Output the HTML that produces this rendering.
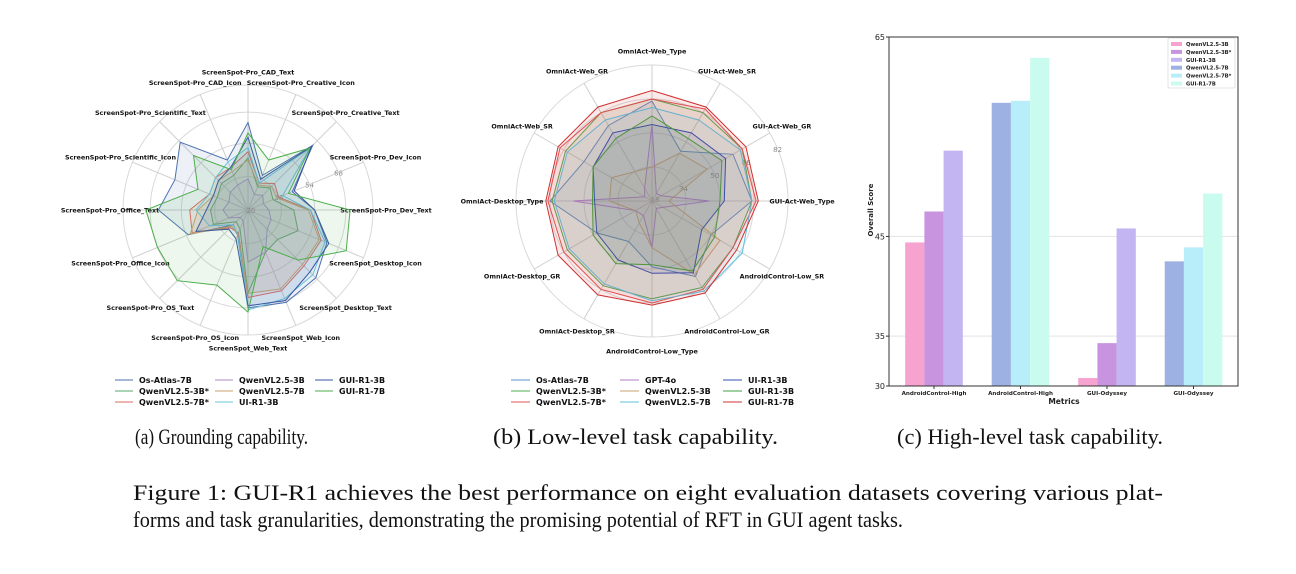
<!DOCTYPE html>
<html><head><meta charset="utf-8"><style>
html,body{margin:0;padding:0;background:#fff;}
svg{display:block;}
text{font-family:"DejaVu Sans","Liberation Sans",sans-serif;}
.cap{font-family:"Liberation Serif",serif;font-size:22px;fill:#111;}
</style></head><body>
<svg id="fig" width="1296" height="574" viewBox="0 0 1296 574" xmlns="http://www.w3.org/2000/svg">
<g id="radar1"></g>
<g id="radar2"></g>
<g id="bars"></g>
<text class="cap" x="135" y="444" textLength="173" lengthAdjust="spacingAndGlyphs">(a) Grounding capability.</text>
<text class="cap" x="493" y="444" textLength="285" lengthAdjust="spacingAndGlyphs">(b) Low-level task capability.</text>
<text class="cap" x="897" y="444" textLength="266" lengthAdjust="spacingAndGlyphs">(c) High-level task capability.</text>
<text class="cap" x="133" y="500" textLength="1030" lengthAdjust="spacingAndGlyphs">Figure 1: GUI-R1 achieves the best performance on eight evaluation datasets covering various plat-</text>
<text class="cap" x="133" y="527" textLength="770" lengthAdjust="spacingAndGlyphs">forms and task granularities, demonstrating the promising potential of RFT in GUI agent tasks.</text>
</svg>
<script>
// ---------- Radar 1 data ----------
const r1Axes = ["ScreenSpot-Pro_CAD_Text","ScreenSpot-Pro_Creative_Icon","ScreenSpot-Pro_Creative_Text","ScreenSpot-Pro_Dev_Icon","ScreenSpot-Pro_Dev_Text","ScreenSpot_Desktop_Icon","ScreenSpot_Desktop_Text","ScreenSpot_Web_Icon","ScreenSpot_Web_Text","ScreenSpot-Pro_OS_Icon","ScreenSpot-Pro_OS_Text","ScreenSpot-Pro_Office_Icon","ScreenSpot-Pro_Office_Text","ScreenSpot-Pro_Scientific_Icon","ScreenSpot-Pro_Scientific_Text","ScreenSpot-Pro_CAD_Icon"];
const r1Names = ["Os-Atlas-7B","QwenVL2.5-3B*","QwenVL2.5-7B*","QwenVL2.5-3B","QwenVL2.5-7B","UI-R1-3B","GUI-R1-3B","GUI-R1-7B"];
const r1OsAtlas = [62,38,64,43,52,61,66,68,67,33,30,51,63,58,66,46];
const r1Qwen3Bs = [45,32,35,33,42,46,40,42,60,30,28,38,38,36,38,38];
const r1Qwen7Bs = [48,34,38,36,50,58,58,62,62,32,32,49,48,40,42,42];
const r1Qwen3B  = [35,28,30,28,30,32,33,42,45,26,25,30,32,30,32,33];
const r1Qwen7B  = [44,33,36,35,49,57,57,61,60,33,31,50,44,38,40,40];
const r1UIR13B  = [50,34,62,38,50,60,64,66,68,33,30,40,45,40,42,45];
const r1GUIR13B = [55,36,63,44,52,62,62,67,66,35,33,47,40,38,40,42];
const r1GUIR17B = [57,46,62,41,69,71,54,39,69,59,68,67,69,46,57,41];
const r1Ticks = [36,52,67,80];
const r1TickLabels = ["36","54","68",""];
// ---------- Radar 2 data ----------
const r2Axes = ["OmniAct-Web_Type","GUI-Act-Web_SR","GUI-Act-Web_GR","GUI-Act-Web_Type","AndroidControl-Low_SR","AndroidControl-Low_GR","AndroidControl-Low_Type","OmniAct-Desktop_SR","OmniAct-Desktop_GR","OmniAct-Desktop_Type","OmniAct-Web_SR","OmniAct-Web_GR"];
const r2Names = ["Os-Atlas-7B","QwenVL2.5-3B*","QwenVL2.5-7B*","GPT-4o","QwenVL2.5-3B","QwenVL2.5-7B","UI-R1-3B","GUI-R1-3B","GUI-R1-7B"];
const r2OsAtlas = [65,45,62,65,50,59,49,40,48,66,55,59];
const r2Qwen3Bs = [66,66,67,65,62,65,64,64,64,65,65,66];
const r2Qwen7Bs = [66,68,67,67,62,66,66,66,66,67,68,66];
const r2GPT4o   = [54,22,23,45,24,22,40,26,27,55,22,25];
const r2Qwen3B  = [34,44,48,26,55,58,40,30,27,38,40,34];
const r2Qwen7B  = [62,62,66,65,67,67,65,63,63,64,64,62];
const r2UIR13B  = [54,55,58,52,45,57,52,50,48,45,50,55];
const r2GUIR13B = [58,52,56,50,52,56,48,52,50,46,50,52];
const r2GUIR17B = [70,69,69,68,64,68,67,69,69,68,69,69];
const r2Ticks = [34,50,66,82];
const r2TickLabels = ["34","50","66","82"];
// ---------- Bar data ----------
const barCats = ["AndroidControl-High","AndroidControl-High","GUI-Odyssey","GUI-Odyssey"];
const barNames = ["QwenVL2.5-3B","QwenVL2.5-3B*","GUI-R1-3B","QwenVL2.5-7B","QwenVL2.5-7B*","GUI-R1-7B"];
const bar3Base  = [44.4, null, 30.8, null];
const bar3Star  = [47.5, null, 34.3, null];
const bar3R1    = [53.6, null, 45.8, null];
const bar7Base  = [null, 58.4, null, 42.5];
const bar7Star  = [null, 58.6, null, 43.9];
const bar7R1    = [null, 62.9, null, 49.3];
const barTicks = [30,35,45,65];

const NS="http://www.w3.org/2000/svg";
function mk(parent,tag,attrs,txt){const e=document.createElementNS(NS,tag);for(const k in attrs)e.setAttribute(k,attrs[k]);if(txt!==undefined)e.textContent=txt;parent.appendChild(e);return e;}

function radar(g,cx,cy,R,vmin,vmax,axes,ticks,tickLabels,series,colors,names,labelR,key){
  const n=axes.length;
  const rs=v=>(v-vmin)/(vmax-vmin)*R;
  const pt=(i,r)=>{const a=i/n*2*Math.PI;return [cx+r*Math.sin(a),cy-r*Math.cos(a)];};
  ticks.forEach((t,k)=>{
    const c=mk(g,'circle',{cx:cx,cy:cy,r:rs(t),fill:'none',stroke:'#d9d9d9','stroke-width':1});
    
    
    if(tickLabels[k]){const p=pt(n*67.5/360,rs(t));
      const tl=mk(g,'text',{x:p[0],y:p[1]+3,'font-size':7,fill:'#888','text-anchor':'middle'},tickLabels[k]);
      
      }
  });
  axes.forEach((a,i)=>{
    const p=pt(i,R);
    const l=mk(g,'line',{x1:cx,y1:cy,x2:p[0],y2:p[1],stroke:'#cfcfcf','stroke-width':1});
    
    
    const q=pt(i,labelR);
    const t=mk(g,'text',{x:q[0],y:q[1]+2.5,'font-size':6.4,'font-weight':'bold',fill:'#111','text-anchor':'middle'},a);
    
    
  });
  series.forEach((s,j)=>{
    const pts=s.map((v,i)=>pt(i,rs(v)).map(x=>x.toFixed(1)).join(',')).join(' ');
    const pg=mk(g,'polygon',{points:pts,fill:colors[j],'fill-opacity':0.1,stroke:colors[j],'stroke-width':1});
    
    
  });
}
function legend(g,x0s,y0,dy,names,colors,lineLen){
  names.forEach((nm,j)=>{
    const col=Math.floor(j/3),row=j%3;
    const x=x0s[col],y=y0+row*dy;
    const l=mk(g,'line',{x1:x,y1:y,x2:x+lineLen,y2:y,stroke:colors[j],'stroke-width':1});
    
    
    const t=mk(g,'text',{x:x+lineLen+6,y:y+3,'font-size':8,'font-weight':'bold',fill:'#111'},nm);
    
    
  });
}
// Radar 1
const g1=document.getElementById('radar1');
const c1=["#4c72b0","#55a868","#dd6a60","#a98bc4","#c9a26b","#6cc3dc","#3a55a4","#4cae4c"];
radar(g1,248,210,125,20,80,r1Axes,r1Ticks,r1TickLabels,[r1OsAtlas,r1Qwen3Bs,r1Qwen7Bs,r1Qwen3B,r1Qwen7B,r1UIR13B,r1GUIR13B,r1GUIR17B],c1,r1Names,138,'grounding');
legend(g1,[115,215,315],380,11,r1Names,c1,18);
mk(g1,'text',{x:251,y:213,'font-size':7,fill:'#888','text-anchor':'middle'},'20');
// Radar 2
const g2=document.getElementById('radar2');
const c2=["#5a8fd0","#4caf50","#e05555","#b07cc8","#c8a070","#5cc0e0","#3050b0","#40a040","#d03030"];
radar(g2,652,201,136,18,82,r2Axes,r2Ticks,r2TickLabels,[r2OsAtlas,r2Qwen3Bs,r2Qwen7Bs,r2GPT4o,r2Qwen3B,r2Qwen7B,r2UIR13B,r2GUIR13B,r2GUIR17B],c2,r2Names,150,'low-level');
legend(g2,[511,620,723],380,11,r2Names,c2,19);
mk(g2,'text',{x:655,y:202,'font-size':7,fill:'#888','text-anchor':'middle'},'18');
// Bars
const gb=document.getElementById('bars');
const X0=889,X1=1238,Y0=37,Y1=386,vmin=30,vmax=65;
const ys=v=>Y1-(v-vmin)/(vmax-vmin)*(Y1-Y0);
const catStep=86.5, catStart=934, bw=19.2;
const barColors=["#f7a3cf","#c994df","#c3b4f2","#9db1e2","#b8edfa","#c9fcef"];
const barSeries=[bar3Base,bar3Star,bar3R1,bar7Base,bar7Star,bar7R1];
[35,45].forEach(t=>{const l=mk(gb,'line',{x1:X0,x2:X1,y1:ys(t),y2:ys(t),stroke:'#e3e3e3','stroke-width':1});
  
  });
barSeries.forEach((s,j)=>{
  s.forEach((v,i)=>{
    if(v===null)return;
    const slot=j%3;
    const x=catStart+i*catStep+(slot-1.5)*bw;
    const r=mk(gb,'rect',{x:x,y:ys(v),width:bw,height:Y1-ys(v),fill:barColors[j]});
    
    
  });
});
const fr=mk(gb,'rect',{x:X0,y:Y0,width:X1-X0,height:Y1-Y0,fill:'none',stroke:'#333','stroke-width':1});


barTicks.forEach(t=>{
  const l=mk(gb,'line',{x1:X0-3,x2:X0,y1:ys(t),y2:ys(t),stroke:'#333'});
  
  
  const tx=mk(gb,'text',{x:X0-4,y:ys(t)+3,'font-size':8,fill:'#222','text-anchor':'end'},String(t));
  
  
});
barCats.forEach((c,i)=>{
  const x=catStart+i*catStep;
  const l=mk(gb,'line',{x1:x,x2:x,y1:Y1,y2:Y1+3,stroke:'#333'});
  
  
  const t=mk(gb,'text',{x:x,y:Y1+9,'font-size':5.6,'font-weight':'bold',fill:'#222','text-anchor':'middle'},c);
  
  
});
const xt=mk(gb,'text',{x:1064,y:404,'font-size':7.5,'font-weight':'bold',fill:'#222','text-anchor':'middle'},'Metrics');


const yt=mk(gb,'text',{x:0,y:0,'font-size':7,'font-weight':'bold',fill:'#222','text-anchor':'middle',transform:'translate(873,210) rotate(-90)'},'Overall Score');


const lb=mk(gb,'rect',{x:1168,y:38,width:67,height:50,fill:'#fff',stroke:'#ddd','stroke-width':0.8,rx:1.5});


barNames.forEach((nm,j)=>{
  const y=44+j*7.9;
  const p=mk(gb,'rect',{x:1171,y:y-2,width:11,height:4,fill:barColors[j]});
  
  
  const t=mk(gb,'text',{x:1186,y:y+2,'font-size':5.2,'font-weight':'bold',fill:'#222'},nm);
  
  
});
</script>
</body></html>
